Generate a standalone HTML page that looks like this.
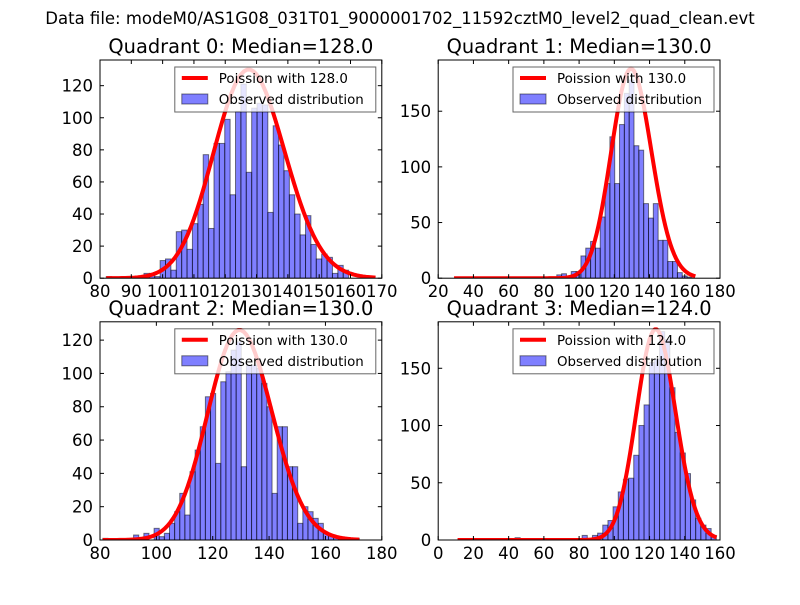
<!DOCTYPE html>
<html><head><meta charset="utf-8"><style>
body{margin:0;background:#fff}
svg text{font-family:"DejaVu Sans","Liberation Sans",sans-serif}
</style></head><body>
<svg id="c" width="800" height="600" xmlns="http://www.w3.org/2000/svg">
<text x="400" y="24" font-size="16.5" text-anchor="middle">Data file: modeM0/AS1G08_031T01_9000001702_11592cztM0_level2_quad_clean.evt</text>
</svg>
<script>
const medians=[128,130,130,124];
const peakHeights=[130,188,126,184];
const binStarts=[82,29.8,81,11.4];
const binWidths=[1.72,2.74,1.82,2.93];
const lineRanges=[[82,168],[29,166],[81,172],[11,158]];
const xLimits=[[80,170],[20,180],[80,180],[0,160]];
const yLimits=[[0,136],[0,196],[0,131],[0,190.6]];
const xTicks=[[80,90,100,110,120,130,140,150,160,170],[20,40,60,80,100,120,140,160,180],[80,100,120,140,160,180],[0,20,40,60,80,100,120,140,160]];
const yTicks=[[0,20,40,60,80,100,120],[0,50,100,150],[0,20,40,60,80,100,120],[0,50,100,150]];
const counts0=[1,0,0,0,1,1,1,3,3,1,11,12,5,29,30,18,34,46,77,31,84,84,99,52,104,121,66,106,109,108,41,95,83,67,52,40,27,39,21,12,15,13,3,8,5,0,0,0,0,0];
const counts1=[0,0,0,0,0,0,0,1,0,0,0,0,0,1,1,0,0,0,1,0,0,3,4,1,6,6,20,27,33,27,55,85,127,85,138,166,178,119,115,67,54,67,34,34,15,15,5,2,1,0];
const counts2=[1,0,0,0,0,0,3,0,4,0,7,2,4,10,17,28,15,41,54,68,86,88,46,95,101,114,119,44,105,105,103,94,80,28,68,68,44,44,10,20,17,13,10,4,3,2,1,0,0,1];
const counts3=[0,0,0,0,0,0,0,0,0,0,0,2,0,0,0,0,0,1,0,0,1,0,0,0,4,1,4,6,13,17,29,42,53,54,74,100,118,155,158,182,175,133,94,76,58,35,19,13,10,4];
const allCounts=[counts0,counts1,counts2,counts3];
const boxes=[[100,60,281.8,218.2],[438.2,60,281.8,218.2],[100,321.8,281.8,218.2],[438.2,321.8,281.8,218.2]];
const NS="http://www.w3.org/2000/svg";
const svg=document.getElementById('c');
function mk(tag,attrs,parent){const e=document.createElementNS(NS,tag);for(const k in attrs)e.setAttribute(k,attrs[k]);(parent||svg).appendChild(e);return e;}
function lnFact(k){if(k<2)return 0;return k*Math.log(k)-k+0.5*Math.log(2*Math.PI*k)+1/(12*k)-1/(360*k*k*k);}
for(let p=0;p<4;p++){
  const [L,T,W,H]=boxes[p];
  const g=mk('g',{});
  
  
  const xs=v=>L+(v-xLimits[p][0])/(xLimits[p][1]-xLimits[p][0])*W;
  const ys=v=>T+H-(v-yLimits[p][0])/(yLimits[p][1]-yLimits[p][0])*H;
  const clipId='clip'+p;
  const cp=mk('clipPath',{id:clipId},g);mk('rect',{x:L,y:T,width:W,height:H},cp);
  const plot=mk('g',{'clip-path':'url(#'+clipId+')'},g);
  const cnt=allCounts[p];
  for(let i=0;i<cnt.length;i++){
    const x0=binStarts[p]+i*binWidths[p],x1=x0+binWidths[p];
    const r=mk('rect',{x:xs(x0),y:ys(cnt[i]),width:xs(x1)-xs(x0),height:ys(0)-ys(cnt[i]),fill:'#0000ff','fill-opacity':0.5,stroke:'#000','stroke-opacity':0.5,'stroke-width':1},plot);
    
    
  }
  const lam=medians[p],peak=lnFact(lam)-lam*Math.log(lam)+lam;
  let d='';
  for(let k=lineRanges[p][0];k<=lineRanges[p][1];k++){
    const v=peakHeights[p]*Math.exp(k*Math.log(lam)-lam-lnFact(k)+lam*Math.log(lam)-lam-lnFact(lam)+2*lam-2*lam*Math.log(lam)+2*lnFact(lam)-lnFact(lam)+lam*Math.log(lam)-lam - (lam*Math.log(lam)-lam-lnFact(lam)));
    d+=(d?'L':'M')+xs(k).toFixed(2)+','+ys(v).toFixed(2);
  }
  const pl=mk('path',{d:d,fill:'none',stroke:'#ff0000','stroke-width':4,'stroke-linejoin':'round'},plot);
  
  
  mk('rect',{x:L,y:T,width:W,height:H,fill:'none',stroke:'#000','stroke-width':1},g);
  xTicks[p].forEach(t=>{const x=xs(t);
    mk('line',{x1:x,y1:T+H,x2:x,y2:T+H-4,stroke:'#000'},g);mk('line',{x1:x,y1:T,x2:x,y2:T+4,stroke:'#000'},g);
    const tx=mk('text',{x:x,y:T+H+19,'font-size':16.5,'text-anchor':'middle'},g);tx.textContent=t;
    
    });
  yTicks[p].forEach(t=>{const y=ys(t);
    mk('line',{x1:L,y1:y,x2:L+4,y2:y,stroke:'#000'},g);mk('line',{x1:L+W,y1:y,x2:L+W-4,y2:y,stroke:'#000'},g);
    const tx=mk('text',{x:L-7,y:y+6,'font-size':16.5,'text-anchor':'end'},g);tx.textContent=t;
    
    });
  const ti=mk('text',{x:L+W/2,y:T-7,'font-size':19.4,'text-anchor':'middle'},g);
  ti.textContent='Quadrant '+p+': Median='+medians[p].toFixed(1);
  
  
  const lg=mk('g',{},g);
  
  
  const lx=L+W-6-201,ly=T+7;
  mk('rect',{x:lx,y:ly,width:201,height:45,fill:'#fff','fill-opacity':0.8,stroke:'#000','stroke-opacity':0.6},lg);
  mk('line',{x1:lx+7,y1:ly+11,x2:lx+33,y2:ly+11,stroke:'#ff0000','stroke-width':4},lg);
  mk('rect',{x:lx+7,y:ly+27,width:26,height:10,fill:'#0000ff','fill-opacity':0.5,stroke:'#000','stroke-opacity':0.5},lg);
  const t1=mk('text',{x:lx+44,y:ly+16,'font-size':13.4},lg);t1.textContent='Poission with '+medians[p].toFixed(1);
  
  
  const t2=mk('text',{x:lx+44,y:ly+37,'font-size':13.4},lg);t2.textContent='Observed distribution';
  
  
}
</script>
</body></html>
